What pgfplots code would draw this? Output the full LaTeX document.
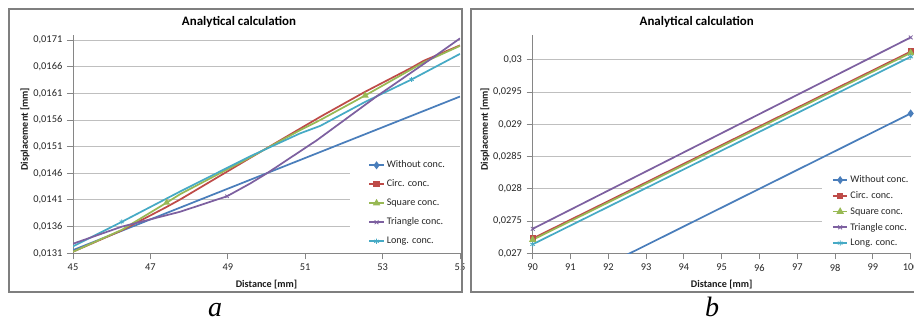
\documentclass[border=0pt]{standalone}
\usepackage{pgfplots}
\pgfplotsset{compat=1.18}
\usepackage{fontspec}
\setmainfont{Carlito}

\definecolor{cBlue}{HTML}{4A7EBB}
\definecolor{cRed}{HTML}{BE4B48}
\definecolor{cGreen}{HTML}{98B954}
\definecolor{cPurple}{HTML}{7D60A0}
\definecolor{cCyan}{HTML}{46AAC5}
\definecolor{axisgray}{HTML}{868686}
\definecolor{gridgray}{HTML}{BFBFBF}
\definecolor{framegray}{HTML}{7F7F7F}

\pgfplotsset{
  excelchart/.style={
    scale only axis,
    axis x line*=bottom, axis y line*=left,
    axis line style={axisgray, line width=0.75pt},
    tick style={axisgray, line width=0.75pt},
    tick align=outside, major tick length=4.5pt,
    ymajorgrids, major grid style={gridgray, line width=0.75pt},
    scaled y ticks=false, scaled x ticks=false,
    /pgf/number format/use comma,
    /pgf/number format/fixed,
    /pgf/number format/precision=4,
    /pgf/number format/assume math mode=true,
    ticklabel style={font=\fontsize{7.8}{9}\selectfont, text=black!85},
    every axis title shift=0pt,
    title style={font=\bfseries\fontsize{9.7}{11}\selectfont, anchor=center},
    label style={font=\bfseries\fontsize{7.6}{9}\selectfont, text=black!90},
    x label style={anchor=center},
    y label style={anchor=center},
    legend cell align=left,
    legend image code/.code={
      \draw[mark repeat=2, mark phase=2, #1]
        plot coordinates {(0pt,0pt) (5.5pt,0pt) (11pt,0pt)};},
    line/.style={line width=1.3pt, mark=none},
    dots/.style={only marks, mark size=1.8pt, forget plot},
  },
  sWithout/.style={cBlue, line width=1.3pt, mark=diamond*, mark size=2pt, mark options={fill=cBlue}},
  sCirc/.style={cRed, line width=1.3pt, mark=square*, mark size=1.7pt, mark options={fill=cRed}},
  sSquare/.style={cGreen, line width=1.3pt, mark=triangle*, mark size=2pt, mark options={fill=cGreen}},
  sTriangle/.style={cPurple, line width=1.3pt, mark=x, mark size=2pt, mark options={line width=0.6pt}},
  sLong/.style={cCyan, line width=1.3pt, mark=asterisk, mark size=2pt, mark options={line width=0.6pt}},
}

\begin{document}
\begin{tikzpicture}
\useasboundingbox (0,0) rectangle (685.5pt,240pt);

% ---------------- panel a: 45 to 55 mm ----------------
\begin{axis}[excelchart,
  at={(54.75pt,50pt)}, anchor=south west,
  width=290.25pt, height=163.75pt,
  xmin=45, xmax=55, ymin=0.0131, ymax=0.017194,
  xtick={45,47,49,51,53,55},
  ytick={0.0131,0.0136,0.0141,0.0146,0.0151,0.0156,0.0161,0.0166,0.0171},
  title={Analytical calculation},
  title style={at={(axis description cs:0.429,1.06)}},
  xlabel={Distance [mm]},
  x label style={at={(axis description cs:0.5,-0.145)}},
  ylabel={Displacement [mm]},
  y label style={at={(axis description cs:-0.124,0.569)}},
  legend style={at={(axis description cs:0.716,0.438)}, anchor=north west,
    draw=none, fill=white, inner xsep=13.5pt, inner ysep=2pt,
    font=\fontsize{7.6}{9}\selectfont, text=black!85,
    row sep=7.25pt, column sep=1.5pt,
    nodes={inner sep=0pt, text height=5.5pt, text depth=1.5pt}},
]
\addlegendimage{sWithout}
\addlegendimage{sCirc}
\addlegendimage{sSquare}
\addlegendimage{sTriangle}
\addlegendimage{sLong}

\addplot[sWithout, line, forget plot] coordinates {
  (45,0.01316) (50,0.01460) (55,0.01604)};
\addplot[sCirc, line, forget plot] coordinates {
  (45,0.01313) (46.26,0.01353) (47.42,0.01397) (47.77,0.01411) (49.58,0.01489)
  (51.39,0.01566) (52.55,0.01613) (53.72,0.01657) (54.06,0.01671) (55,0.01700)};
\addplot[sSquare, line, forget plot] coordinates {
  (45,0.01313) (46.26,0.01354) (47.42,0.01405) (47.77,0.01421) (49.58,0.01490)
  (50.87,0.01541) (51.39,0.01560) (52.55,0.01606) (54.06,0.01668) (55,0.01699)};
\addplot[sLong, line, forget plot] coordinates {
  (45,0.01323) (46.26,0.01369) (47.77,0.01426) (49.58,0.01492) (50.87,0.01535)
  (51.39,0.01549) (52.55,0.01594) (53.75,0.01636) (55,0.01684)};
\addplot[sTriangle, line, forget plot] coordinates {
  (45,0.01328) (46.26,0.01360) (47.77,0.01388) (48.98,0.01417) (49.58,0.01441)
  (50.01,0.01460) (51.30,0.01522) (52.86,0.01605) (54.24,0.01674) (55,0.01713)};

% markers visible along the curves
\addplot[sSquare, dots] coordinates {(47.42,0.01405) (52.55,0.01606)};
\addplot[sLong, dots] coordinates {(46.26,0.01369) (53.75,0.01636)};
\addplot[sTriangle, dots] coordinates {(48.98,0.01417)};

\legend{Without conc., Circ. conc., Square conc., Triangle conc., Long. conc.}
\end{axis}

% ---------------- panel b: 90 to 100 mm ----------------
\begin{axis}[excelchart,
  at={(399.5pt,50pt)}, anchor=south west,
  width=283.5pt, height=163.75pt,
  xmin=90, xmax=100, ymin=0.027, ymax=0.030388,
  xtick={90,91,...,100},
  ytick={0.027,0.0275,0.028,0.0285,0.029,0.0295,0.03},
  title={Analytical calculation},
  title style={at={(axis description cs:0.434,1.06)}},
  xlabel={Distance [mm]},
  x label style={at={(axis description cs:0.5,-0.145)}},
  ylabel={Displacement [mm]},
  y label style={at={(axis description cs:-0.126,0.569)}},
  legend style={at={(axis description cs:0.7646,0.370)}, anchor=north west,
    draw=none, fill=white, inner xsep=7.5pt, inner ysep=2pt,
    font=\fontsize{7.6}{9}\selectfont, text=black!85,
    row sep=4.8pt, column sep=1.5pt,
    nodes={inner sep=0pt, text height=5.5pt, text depth=1.5pt}},
]
\addlegendimage{sWithout}
\addlegendimage{sCirc}
\addlegendimage{sSquare}
\addlegendimage{sTriangle}
\addlegendimage{sLong}

\addplot[sWithout, forget plot] coordinates {(90,0.02625) (100,0.02917)};
\addplot[sCirc, forget plot] coordinates {(90,0.02723) (100,0.03013)};
\addplot[sSquare, forget plot] coordinates {(90,0.02721) (100,0.03011)};
\addplot[sTriangle, forget plot] coordinates {(90,0.02738) (100,0.03035)};
\addplot[sLong, forget plot] coordinates {(90,0.02714) (100,0.03005)};

\legend{Without conc., Circ. conc., Square conc., Triangle conc., Long. conc.}
\end{axis}

% chart frames
\draw[framegray, line width=1.5pt] (6.75pt,21pt) rectangle (346.5pt,233.25pt);
\draw[framegray, line width=1.5pt] (353.25pt,21pt) rectangle (690pt,233.25pt);

% panel letters
\node[anchor=base, font=\fontspec{Liberation Serif}\itshape\fontsize{21}{24}\selectfont]
  at (161.25pt,2.6pt) {a};
\node[anchor=base, font=\fontspec{Liberation Serif}\itshape\fontsize{21}{24}\selectfont]
  at (534pt,2.6pt) {b};
\end{tikzpicture}
\end{document}
